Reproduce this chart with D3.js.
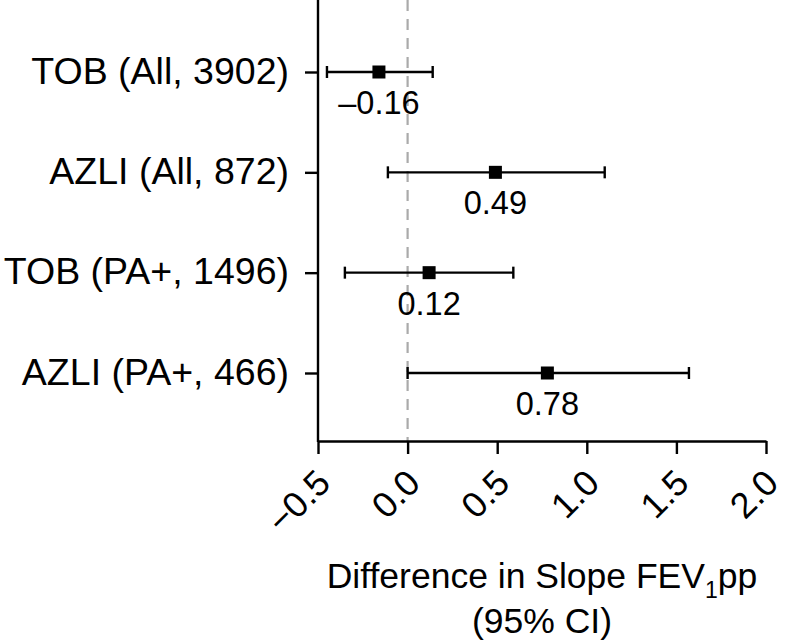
<!DOCTYPE html>
<html>
<head>
<meta charset="utf-8">
<script src="https://cdn.jsdelivr.net/npm/d3@7"></script>
<style>
  html, body { margin: 0; padding: 0; background: #fff; }
  svg { display: block; font-family: "Liberation Sans", Arial, Helvetica, sans-serif; }
</style>
</head>
<body>
<svg id="chart" width="793" height="641"></svg>
<script>
const categories = ["TOB (All, 3902)", "AZLI (All, 872)", "TOB (PA+, 1496)", "AZLI (PA+, 466)"];
const estimates = [-0.16, 0.49, 0.12, 0.78];
const lowerCI = [-0.45, -0.11, -0.35, 0.00];
const upperCI = [0.14, 1.10, 0.59, 1.57];
const valueLabels = ["\u20130.16", "0.49", "0.12", "0.78"];
const xTicks = [-0.5, 0.0, 0.5, 1.0, 1.5, 2.0];
const xTickLabels = ["\u22120.5", "0.0", "0.5", "1.0", "1.5", "2.0"];

(function () {
const svg = d3.select("#chart");
const plotLeft = 318, plotRight = 766, plotTop = 0, plotBottom = 441;
const sw = 2.4;

const x = d3.scaleLinear().domain([-0.5, 2.0]).range([plotLeft, plotRight]);
const y = d3.scalePoint().domain(categories).range([72, 373]);

const rows = categories.map((c, i) => ({ cat: c, est: estimates[i], lo: lowerCI[i], hi: upperCI[i], lab: valueLabels[i] }));

// reference dashed line at 0
svg.append("line")
  .attr("x1", x(0)).attr("x2", x(0))
  .attr("y1", plotTop).attr("y2", plotBottom)
  .attr("stroke", "#aaaaaa").attr("stroke-width", 2.2)
  .attr("stroke-dasharray", "11,8");

// y axis
const yAxis = d3.axisLeft(y).tickSize(13).tickPadding(16);
const gy = svg.append("g").attr("transform", `translate(${plotLeft},0)`).call(yAxis);
gy.select(".domain").remove();
gy.selectAll(".tick line").attr("stroke", "#000").attr("stroke-width", sw);
gy.selectAll(".tick text").attr("font-size", 37.5).attr("fill", "#000")
  .attr("font-family", "'Liberation Sans', Arial, sans-serif").attr("dy", "0.3em");
svg.append("line").attr("x1", plotLeft).attr("x2", plotLeft).attr("y1", plotTop).attr("y2", plotBottom + 1)
  .attr("stroke", "#000").attr("stroke-width", sw);

// x axis
const xAxis = d3.axisBottom(x).tickValues(xTicks).tickSize(13).tickSizeOuter(0)
  .tickFormat((d, i) => xTickLabels[i]);
const gx = svg.append("g").attr("transform", `translate(0,${plotBottom})`).call(xAxis);
gx.select(".domain").attr("stroke", "#000").attr("stroke-width", sw);
gx.selectAll(".tick line").attr("stroke", "#000").attr("stroke-width", sw);
gx.selectAll(".tick text")
  .attr("font-size", 36).attr("fill", "#000")
  .attr("font-family", "'Liberation Sans', Arial, sans-serif")
  .attr("text-anchor", "end")
  .attr("y", 0).attr("dy", 0)
  .attr("transform", "translate(14,44) rotate(-45)");

// error bars
const g = svg.append("g");
g.selectAll(".ci").data(rows).join("line")
  .attr("x1", d => x(d.lo)).attr("x2", d => x(d.hi))
  .attr("y1", d => y(d.cat)).attr("y2", d => y(d.cat))
  .attr("stroke", "#000").attr("stroke-width", sw);
g.selectAll(".capl").data(rows).join("line")
  .attr("x1", d => x(d.lo)).attr("x2", d => x(d.lo))
  .attr("y1", d => y(d.cat) - 6).attr("y2", d => y(d.cat) + 6)
  .attr("stroke", "#000").attr("stroke-width", sw);
g.selectAll(".capr").data(rows).join("line")
  .attr("x1", d => x(d.hi)).attr("x2", d => x(d.hi))
  .attr("y1", d => y(d.cat) - 6).attr("y2", d => y(d.cat) + 6)
  .attr("stroke", "#000").attr("stroke-width", sw);
g.selectAll(".pt").data(rows).join("rect")
  .attr("x", d => x(d.est) - 6.5).attr("y", d => y(d.cat) - 6.5)
  .attr("width", 13).attr("height", 13).attr("fill", "#000");
g.selectAll(".val").data(rows).join("text")
  .attr("x", d => x(d.est)).attr("y", d => y(d.cat) + 42)
  .attr("text-anchor", "middle").attr("font-size", 32.5).attr("fill", "#000")
  .text(d => d.lab);

// axis title
const cx = (plotLeft + plotRight) / 2;
const t1 = svg.append("text").attr("x", cx).attr("y", 588).attr("text-anchor", "middle")
  .attr("font-size", 35.5).attr("fill", "#000");
t1.append("tspan").text("Difference in Slope FEV");
t1.append("tspan").text("1").attr("font-size", 23).attr("dy", 10);
t1.append("tspan").text("pp").attr("dy", -10);
svg.append("text").attr("x", cx).attr("y", 633).attr("text-anchor", "middle")
  .attr("font-size", 35.5).attr("fill", "#000").text("(95% CI)");
})();
</script>
</body>
</html>
